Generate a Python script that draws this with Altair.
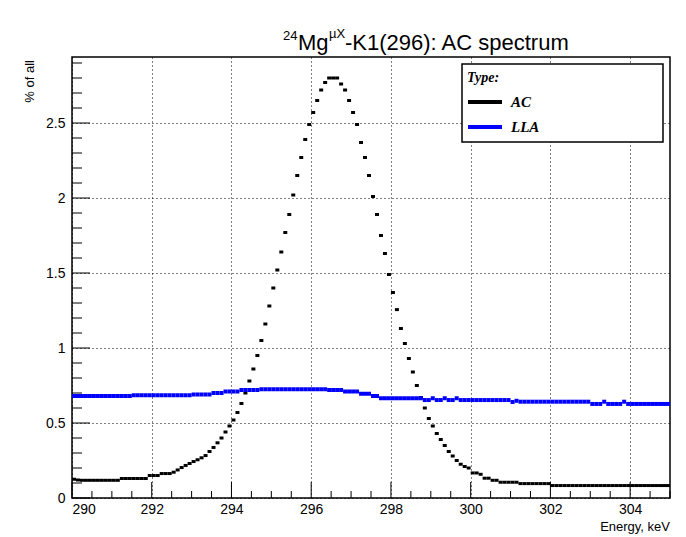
import altair as alt
import pandas as pd

# ---------------- data ----------------
x_start = 290.0
bin_width = 0.1

ac_values = [
    0.125, 0.12,
    0.118, 0.118, 0.118, 0.118, 0.118, 0.118, 0.118, 0.118, 0.118, 0.118,
    0.13, 0.13, 0.13, 0.13, 0.13, 0.13, 0.13,
    0.15, 0.15, 0.15,
    0.163, 0.163, 0.163,
    0.172, 0.187, 0.203, 0.217, 0.23, 0.243, 0.255, 0.268, 0.283, 0.31,
    0.337, 0.368, 0.40, 0.44, 0.48, 0.52, 0.57, 0.63, 0.70, 0.78,
    0.86, 0.95, 1.05, 1.16, 1.28,
    1.40, 1.52, 1.64, 1.77, 1.89, 2.02, 2.15, 2.27, 2.39, 2.49, 2.57, 2.65, 2.72, 2.77,
    2.80, 2.80, 2.80,
    2.76, 2.72, 2.65, 2.57, 2.49, 2.37, 2.27, 2.15, 2.01, 1.89, 1.75, 1.63, 1.49, 1.37,
    1.256, 1.13, 1.03, 0.93, 0.84, 0.75, 0.67, 0.60, 0.53, 0.48,
    0.43, 0.39, 0.35, 0.31, 0.28, 0.25, 0.225, 0.21, 0.20,
    0.167, 0.167, 0.158, 0.132, 0.132, 0.118, 0.118,
    0.105, 0.105, 0.105, 0.105, 0.105,
    0.096, 0.096, 0.096, 0.096, 0.096, 0.096, 0.096, 0.096,
    0.083, 0.083, 0.083, 0.083, 0.083, 0.083, 0.083, 0.083, 0.083, 0.083,
    0.083, 0.083, 0.083, 0.083, 0.083, 0.083, 0.083, 0.083, 0.083, 0.083,
    0.083, 0.083, 0.083, 0.083, 0.083, 0.083, 0.083, 0.083, 0.083, 0.083,
]

lla_values = [
    0.68, 0.68, 0.68, 0.68, 0.68, 0.68, 0.68, 0.68, 0.68, 0.68,
    0.68, 0.68, 0.68, 0.68, 0.68,
    0.685, 0.685, 0.685, 0.685, 0.685, 0.685, 0.685, 0.685, 0.685, 0.685,
    0.685, 0.685, 0.685, 0.685, 0.685,
    0.69, 0.69, 0.69, 0.69, 0.69,
    0.70, 0.70, 0.70,
    0.71, 0.71, 0.71, 0.71,
    0.72, 0.72, 0.72, 0.72, 0.72,
    0.725, 0.725, 0.725, 0.725, 0.725, 0.725, 0.725, 0.725, 0.725, 0.725,
    0.725, 0.725, 0.725, 0.725, 0.725, 0.725, 0.725,
    0.72, 0.72, 0.72, 0.72,
    0.71, 0.71, 0.71, 0.71,
    0.695, 0.695, 0.695,
    0.68, 0.68,
    0.665, 0.665, 0.665, 0.665, 0.665, 0.665, 0.665, 0.665, 0.665, 0.665, 0.665,
    0.653, 0.653, 0.665, 0.653, 0.653, 0.665, 0.653, 0.653, 0.665,
    0.653, 0.653, 0.653, 0.653, 0.653, 0.653, 0.653, 0.653, 0.653, 0.653,
    0.653, 0.653, 0.653,
    0.64, 0.648,
    0.642, 0.642, 0.642, 0.642, 0.642, 0.642, 0.642, 0.642, 0.642, 0.642,
    0.642, 0.642, 0.642, 0.642, 0.642, 0.642, 0.642, 0.642,
    0.627, 0.627, 0.627, 0.642, 0.627, 0.627, 0.627, 0.627, 0.642,
    0.627, 0.627, 0.627, 0.627, 0.627, 0.627, 0.627, 0.627, 0.627, 0.627, 0.627,
]

series_names = ["AC", "LLA"]
series_colors = ["#000000", "#0000ff"]

x_major = [290, 292, 294, 296, 298, 300, 302, 304]
x_minor = [290.5, 291, 291.5, 292.5, 293, 293.5, 294.5, 295, 295.5, 296.5, 297, 297.5,
           298.5, 299, 299.5, 300.5, 301, 301.5, 302.5, 303, 303.5, 304.5, 305]
y_major = [0, 0.5, 1, 1.5, 2, 2.5]
y_minor = [0.1, 0.2, 0.3, 0.4, 0.6, 0.7, 0.8, 0.9, 1.1, 1.2, 1.3, 1.4, 1.6, 1.7, 1.8, 1.9,
           2.1, 2.2, 2.3, 2.4, 2.6, 2.7, 2.8, 2.9]

x_domain = [290, 305]
y_domain = [0, 2.94]

title_parts = ["24", "Mg", "\u00b5X", "-K1(296): AC spectrum"]
x_title = "Energy, keV"
y_title = "% of all"
legend_header = "Type:"

# ---------------- tables ----------------
n = len(ac_values)
lo = [round(x_start + i * bin_width, 2) for i in range(n)]
hi = [round(v + bin_width, 2) for v in lo]
ac_df = pd.DataFrame({"lo": lo, "hi": hi, "v": ac_values})
lla_df = pd.DataFrame({"lo": lo, "hi": hi, "v": lla_values})

W, H = 598, 441
FONT = "Liberation Sans"
SERIF = "Liberation Serif"

xs = alt.Scale(domain=x_domain, nice=False, zero=False)
ys = alt.Scale(domain=y_domain, nice=False, zero=False)

x_axis = alt.Axis(values=x_major, grid=True, ticks=False, domain=False, title=None,
                  labelFont=FONT, labelFontSize=14, labelColor="black", labelPadding=4,
                  labelExpr="'' + datum.value",
                  gridColor="black", gridDash=[1, 3], gridWidth=1, gridOpacity=1)
y_axis = alt.Axis(values=y_major, grid=True, ticks=False, domain=False, title=None,
                  labelFont=FONT, labelFontSize=14, labelColor="black", labelPadding=7,
                  labelExpr="'' + datum.value",
                  gridColor="black", gridDash=[1, 3], gridWidth=1, gridOpacity=1)

ac = alt.Chart(ac_df).mark_rule(color=series_colors[0], strokeWidth=3).encode(
    x=alt.X("lo:Q", scale=xs, axis=x_axis),
    x2="hi:Q",
    y=alt.Y("v:Q", scale=ys, axis=y_axis),
)
lla = alt.Chart(lla_df).mark_rule(color=series_colors[1], strokeWidth=4).encode(
    x=alt.X("lo:Q", scale=xs, axis=x_axis),
    x2="hi:Q",
    y=alt.Y("v:Q", scale=ys, axis=y_axis),
)

xmaj = alt.Chart(pd.DataFrame({"t": x_major})).mark_rule(color="black", strokeWidth=1).encode(
    x=alt.X("t:Q", scale=xs, axis=x_axis), y=alt.value(H), y2=alt.value(H - 16))
xmin = alt.Chart(pd.DataFrame({"t": x_minor})).mark_rule(color="black", strokeWidth=1).encode(
    x=alt.X("t:Q", scale=xs, axis=x_axis), y=alt.value(H), y2=alt.value(H - 7))
ymaj = alt.Chart(pd.DataFrame({"t": y_major})).mark_rule(color="black", strokeWidth=1).encode(
    y=alt.Y("t:Q", scale=ys, axis=y_axis), x=alt.value(0), x2=alt.value(18))
ymin = alt.Chart(pd.DataFrame({"t": y_minor})).mark_rule(color="black", strokeWidth=1).encode(
    y=alt.Y("t:Q", scale=ys, axis=y_axis), x=alt.value(0), x2=alt.value(10))

# title pieces (plot coordinates: origin at plot top-left)
def txt(s, x, y, size, font=FONT, **kw):
    return alt.Chart(pd.DataFrame({"s": [s]})).mark_text(
        align=kw.pop("align", "left"), baseline=kw.pop("baseline", "alphabetic"),
        font=font, fontSize=size, color="black", **kw
    ).encode(text="s:N", x=alt.value(x), y=alt.value(y))

t_base = -7
t_sup = -17
title_layers = [
    txt(title_parts[0], 211, t_sup, 13),
    txt(title_parts[1], 226, t_base, 22),
    txt(title_parts[2], 257, t_sup - 2, 13),
    txt(title_parts[3], 273, t_base, 22),
]

xt = txt(x_title, W, H + 33, 13, align="right")
yt = txt(y_title, -42, 3, 13, align="right", baseline="middle", angle=270)

# legend
leg_box = alt.Chart(pd.DataFrame({"a": [0]})).mark_rect(
    fill="white", stroke="black", strokeWidth=1.5).encode(
    x=alt.value(390), x2=alt.value(591), y=alt.value(7), y2=alt.value(85))
leg_head = txt(legend_header, 395, 25, 14, font=SERIF, fontStyle="italic", fontWeight="bold")
leg_items = []
for i, (name, col) in enumerate(zip(series_names, series_colors)):
    yy = 45 + 25 * i
    leg_items.append(alt.Chart(pd.DataFrame({"a": [0]})).mark_rule(color=col, strokeWidth=4).encode(
        x=alt.value(396), x2=alt.value(430), y=alt.value(yy)))
    leg_items.append(txt(name, 439, yy, 15, font=SERIF, fontStyle="italic", fontWeight="bold",
                         baseline="middle"))

chart = alt.layer(
    xmin, xmaj, ymin, ymaj, ac, lla, leg_box, leg_head, *leg_items, *title_layers, xt, yt
).properties(
    width=W, height=H,
    autosize=alt.AutoSizeParams(type="none"),
    padding={"left": 72, "top": 57, "right": 16, "bottom": 39},
    background="white",
).configure_view(stroke="black", strokeWidth=1.5)

chart.save("out.html", embed_options={"renderer": "svg", "actions": False})
